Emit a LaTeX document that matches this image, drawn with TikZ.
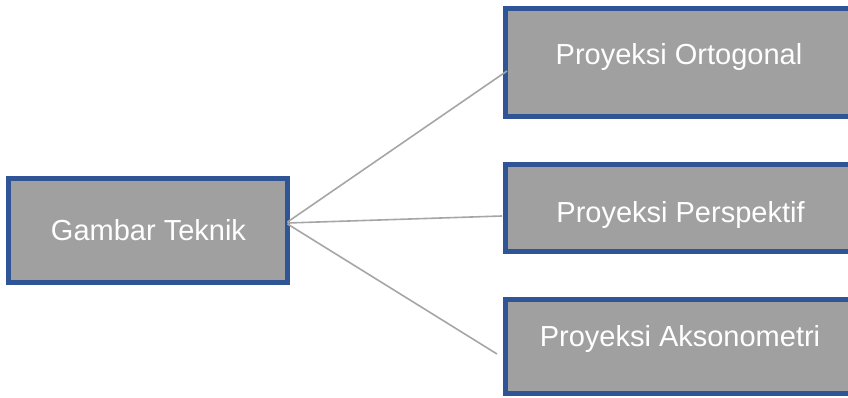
\documentclass[tikz,border=0pt]{standalone}
\usepackage{fontspec}
\setmainfont{Liberation Sans}
\usetikzlibrary{calc}
\definecolor{boxfill}{HTML}{A0A0A0}
\definecolor{boxline}{HTML}{2F5597}
\definecolor{conn}{HTML}{A6A6A6}
\begin{document}
\begin{tikzpicture}[x=1pt,y=1pt,
  box/.style={draw=boxline,fill=boxfill,line width=5pt,rectangle,inner sep=0pt,outer sep=0pt},
  lbl/.style={anchor=base,text=white,inner sep=0pt,font=\fontsize{29}{34}\selectfont},
  conline/.style={draw=conn,line width=1.6pt}]
\useasboundingbox (0,0) rectangle (848,398);
\clip (0,0) rectangle (848,398);
% connectors first
\node[box,minimum width=279,minimum height=104] (g) at (148,167.5) {};
\node[box,minimum width=347,minimum height=108] (b1) at (679,335.5) {};
\node[box,minimum width=347,minimum height=87] (b2) at (679,190) {};
\node[box,minimum width=347,minimum height=94] (b3) at (679,51.5) {};
\coordinate (s1) at ($(g.east)+(0,8.5)$);
\coordinate (s2) at ($(g.east)+(0,7.5)$);
\coordinate (s3) at ($(g.east)+(0,6.5)$);
\coordinate (e1) at ($(b1.west)+(1.5,-8.5)$);
\coordinate (e2) at ($(b2.west)+(-3.5,-8)$);
\coordinate (e3) at ($(b3.west)+(-8.5,-7.5)$);
\draw[conline] (s1) -- (e1);
\draw[conline] (s2) -- (e2);
\draw[conline] (s3) -- (e3);
\node[lbl] (tg) at (148.5,157) {Gambar Teknik};
\node[lbl] (t1) at (679,333) {Proyeksi Ortogonal};
\node[lbl] (t2) at (680.5,175) {Proyeksi Perspektif};
\node[lbl] (t3) at (680,51) {Proyeksi Aksonometri};
\end{tikzpicture}
\end{document}
